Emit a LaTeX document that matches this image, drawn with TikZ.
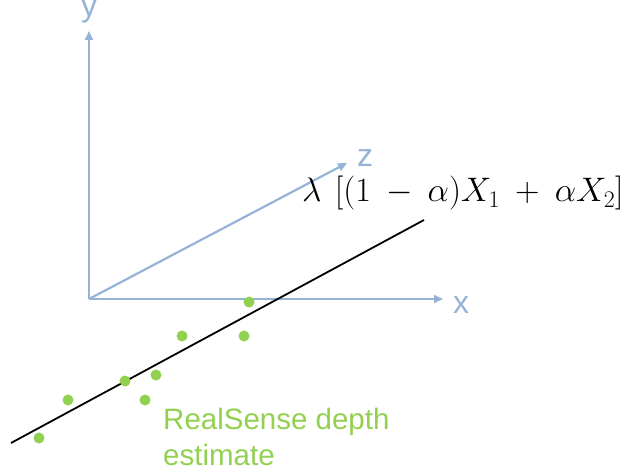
\RequirePackage{fix-cm}
\documentclass[tikz,border=0pt]{standalone}
\usepackage{fontspec}
\setmainfont{Liberation Sans}
\usetikzlibrary{arrows.meta}
\definecolor{axisblue}{RGB}{149,179,215}
\definecolor{dotgreen}{RGB}{146,208,80}
\begin{document}
\begin{tikzpicture}[x=1pt,y=-1pt,
  axis/.style={draw=axisblue,line width=2.2pt,-{Triangle[length=9pt,width=8pt]}},
  axlabel/.style={text=axisblue,font=\fontsize{32}{36}\selectfont,inner sep=0pt,anchor=base},
  pt/.style={circle,fill=dotgreen,inner sep=0pt,minimum size=11pt}]
\useasboundingbox (0,0) rectangle (637,473);
\coordinate (o) at (89,299);
\coordinate (ytip) at (89,31);
\coordinate (xtip) at (443,299);
\coordinate (ztip) at (347,163);
\draw[axis] (o) -- (ytip);
\draw[axis] (o) -- (xtip);
\draw[axis] (o) -- (ztip);
\node[axlabel] (ylab) at (89,17) {y};
\node[axlabel] (xlab) at (461,313) {x};
\node[axlabel] (zlab) at (365,167) {z};
\coordinate (la) at (11,443);
\coordinate (lb) at (424,220);
\draw[line width=1.8pt] (la) -- (lb);
\node[pt] (p1) at (39,438) {};
\node[pt] (p2) at (68,400) {};
\node[pt] (p3) at (125,381) {};
\node[pt] (p4) at (145,400) {};
\node[pt] (p5) at (156,375) {};
\node[pt] (p6) at (182,336) {};
\node[pt] (p7) at (244,336) {};
\node[pt] (p8) at (249,302) {};
\node[anchor=base west,text=dotgreen,align=left,inner sep=0pt,font=\fontsize{29.5}{36}\selectfont] (lbl) at (163,465) {RealSense depth\\estimate};
\node[inner sep=0pt,anchor=base west,font=\fontsize{34}{40}\selectfont] (f) at (302,202) {$\lambda\mskip 7mu[(1\mskip 4mu-\mskip 4mu\alpha)X_1\mskip 4mu+\mskip 4mu\alpha X_2]$};
\end{tikzpicture}
\end{document}
